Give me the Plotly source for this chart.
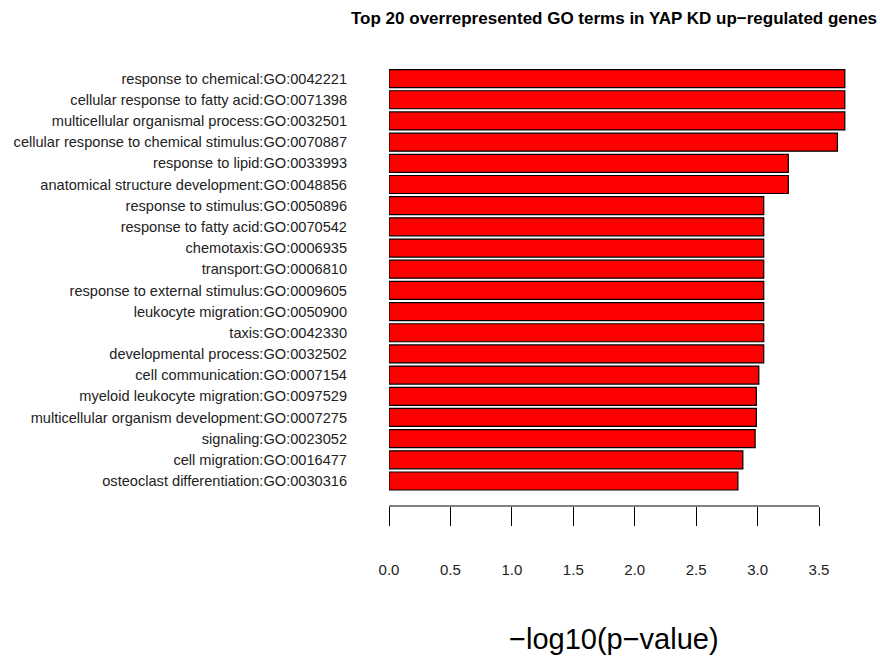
import plotly.graph_objects as go

terms = [
    "response to chemical:GO:0042221",
    "cellular response to fatty acid:GO:0071398",
    "multicellular organismal process:GO:0032501",
    "cellular response to chemical stimulus:GO:0070887",
    "response to lipid:GO:0033993",
    "anatomical structure development:GO:0048856",
    "response to stimulus:GO:0050896",
    "response to fatty acid:GO:0070542",
    "chemotaxis:GO:0006935",
    "transport:GO:0006810",
    "response to external stimulus:GO:0009605",
    "leukocyte migration:GO:0050900",
    "taxis:GO:0042330",
    "developmental process:GO:0032502",
    "cell communication:GO:0007154",
    "myeloid leukocyte migration:GO:0097529",
    "multicellular organism development:GO:0007275",
    "signaling:GO:0023052",
    "cell migration:GO:0016477",
    "osteoclast differentiation:GO:0030316",
]
neg_log10_p = [3.71, 3.71, 3.71, 3.65, 3.25, 3.25, 3.05, 3.05, 3.05, 3.05,
               3.05, 3.05, 3.05, 3.05, 3.01, 2.99, 2.99, 2.98, 2.88, 2.84]
tick_vals = [0.0, 0.5, 1.0, 1.5, 2.0, 2.5, 3.0, 3.5]
tick_text = ["0.0", "0.5", "1.0", "1.5", "2.0", "2.5", "3.0", "3.5"]

FONT = "Liberation Sans, Arial, sans-serif"

fig = go.Figure(go.Bar(
    x=neg_log10_p,
    y=terms,
    orientation="h",
    width=0.85,
    marker=dict(color="#ff0000", line=dict(color="black", width=1.2)),
    hoverinfo="x+y",
))

fig.update_layout(
    width=884, height=659,
    margin=dict(l=389, r=14, t=68, b=153),
    plot_bgcolor="white", paper_bgcolor="white",
    showlegend=False,
    font=dict(family=FONT, color="#222222"),
    xaxis=dict(
        range=[0, 3.915],
        tickvals=tick_vals, ticktext=tick_text,
        ticks="outside", ticklen=19, tickcolor="black", tickwidth=1.2,
        ticklabelstandoff=31,
        tickfont=dict(size=15, color="#222222"),
        showgrid=False, zeroline=False, showline=False,
    ),
    yaxis=dict(
        categoryorder="array", categoryarray=terms[::-1],
        range=[-1.18, 19.5],
        ticks="", ticklabelstandoff=41,
        tickfont=dict(size=14.6, color="#222222"),
        showgrid=False, zeroline=False, showline=False,
    ),
    shapes=[dict(type="line", xref="x", yref="paper",
                 x0=tick_vals[0], x1=tick_vals[-1], y0=0, y1=0,
                 line=dict(color="black", width=1.2))],
    annotations=[
        dict(text="<b>Top 20 overrepresented GO terms in YAP KD up\u2212regulated genes</b>",
             xref="paper", yref="paper", x=(614 - 389) / 481, y=1 + (68 - 18) / 438,
             xanchor="center", yanchor="middle", showarrow=False,
             font=dict(size=17, color="black", family=FONT)),
        dict(text="\u2212log10(p\u2212value)",
             xref="paper", yref="paper", x=(614 - 389) / 481, y=-(639 - 506) / 438,
             xanchor="center", yanchor="middle", showarrow=False,
             font=dict(size=29, color="black", family=FONT)),
    ],
)

fig.write_html("out.html")
